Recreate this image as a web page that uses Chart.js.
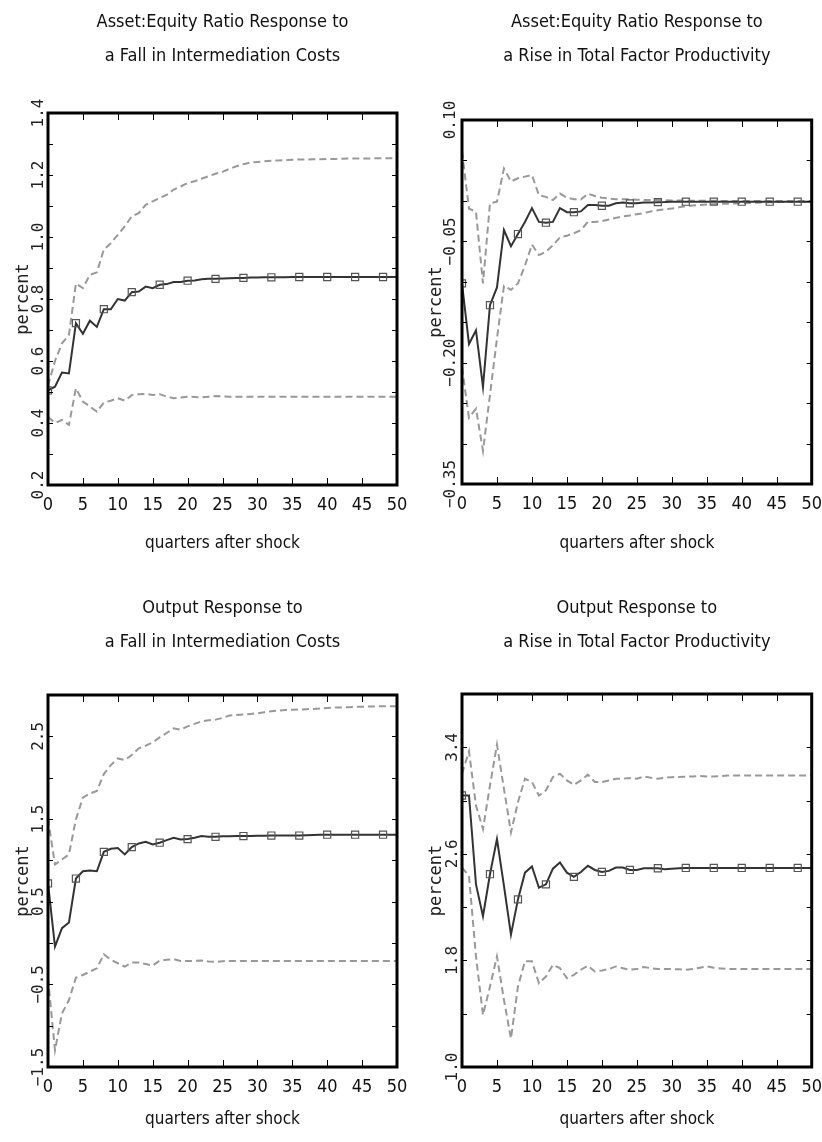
<!DOCTYPE html>
<html>
<head>
<meta charset="utf-8">
<script src="https://cdn.jsdelivr.net/npm/chart.js@4.4.1/dist/chart.umd.min.js"></script>
<style>
  html, body { margin: 0; padding: 0; background: #fff; }
  #wrap { position: relative; width: 822px; height: 1142px; }
  canvas { position: absolute; }
</style>
</head>
<body>
<div id="wrap">
  <canvas id="c1" width="411" height="571" style="left:0;top:0"></canvas>
  <canvas id="c2" width="411" height="571" style="left:411px;top:0"></canvas>
  <canvas id="c3" width="411" height="571" style="left:0;top:571px"></canvas>
  <canvas id="c4" width="411" height="571" style="left:411px;top:571px"></canvas>
</div>
<script>
// ── Daten ──────────────────────────────────────────────────────────
const QUARTERS = [0,1,2,3,4,5,6,7,8,9,10,11,12,13,14,15,16,17,18,19,20,21,22,23,24,25,
  26,27,28,29,30,31,32,33,34,35,36,37,38,39,40,41,42,43,44,45,46,47,48,49,50];
const X_TICKS = [0,5,10,15,20,25,30,35,40,45,50];

// Asset:Equity – Fall in Intermediation Costs
const AE_FALL_MID = [0.505,0.517,0.563,0.560,0.722,0.688,0.730,0.710,0.767,0.767,0.800,0.795,0.822,0.824,0.840,0.835,
  0.846,0.848,0.855,0.855,0.859,0.860,0.864,0.865,0.865,0.866,0.867,0.868,0.868,0.869,0.869,0.870,0.870,0.870,0.870,
  0.871,0.871,0.871,0.871,0.871,0.871,0.871,0.871,0.871,0.871,0.871,0.871,0.871,0.871,0.871,0.871];
const AE_FALL_HI = [0.52,0.60,0.657,0.684,0.85,0.835,0.878,0.886,0.96,0.98,1.007,1.034,1.067,1.077,1.104,1.115,
  1.126,1.136,1.153,1.163,1.174,1.180,1.188,1.196,1.204,1.210,1.220,1.228,1.235,1.240,1.242,1.244,1.246,1.247,1.248,
  1.249,1.250,1.250,1.251,1.251,1.252,1.252,1.252,1.253,1.253,1.253,1.253,1.254,1.254,1.254,1.254];
const AE_FALL_LO = [0.42,0.40,0.41,0.394,0.512,0.469,0.453,0.437,0.466,0.472,0.480,0.472,0.490,0.493,0.494,0.490,
  0.493,0.485,0.480,0.482,0.485,0.484,0.483,0.485,0.487,0.486,0.485,0.485,0.485,0.485,0.485,0.485,0.485,0.485,0.485,
  0.485,0.485,0.485,0.485,0.485,0.485,0.485,0.485,0.485,0.485,0.485,0.485,0.485,0.485,0.485,0.485];
const AE_FALL_YTICKS = [0.2,0.3,0.4,0.5,0.6,0.7,0.8,0.9,1.0,1.1,1.2,1.3,1.4];
const AE_FALL_YLABELS = [0.2,0.4,0.6,0.8,1.0,1.2,1.4];

// Asset:Equity – Rise in TFP
const AE_TFP_MID = [-0.102,-0.177,-0.160,-0.230,-0.129,-0.107,-0.036,-0.056,-0.041,-0.026,-0.009,-0.026,-0.027,-0.026,
  -0.009,-0.014,-0.014,-0.013,-0.005,-0.005,-0.006,-0.006,-0.003,-0.002,-0.003,-0.003,-0.002,-0.002,-0.0016,-0.0015,
  -0.001,-0.001,-0.001,-0.001,-0.001,-0.001,-0.001,-0.001,-0.001,-0.001,-0.001,-0.001,-0.001,-0.001,-0.001,-0.001,
  -0.001,-0.001,-0.001,-0.001,-0.001];
const AE_TFP_HI = [0.061,-0.0095,-0.0136,-0.102,-0.003,-0.001,0.040,0.024,0.028,0.030,0.032,0.007,0.005,0.001,0.009,
  0.004,0.002,0.0017,0.009,0.006,0.004,0.003,0.002,0.002,0.002,0.0015,0.001,0.001,0.001,0.0008,0.0005,0.0004,0.0003,
  0.0002,0.0002,0.0001,0.0001,0.0,0.0,0.0,0.0,0.0,0.0,0.0,0.0,0.0,0.0,0.0,0.0,0.0,0.0];
const AE_TFP_LO = [-0.206,-0.268,-0.257,-0.309,-0.240,-0.170,-0.105,-0.110,-0.102,-0.080,-0.054,-0.067,-0.063,-0.055,
  -0.045,-0.043,-0.040,-0.036,-0.026,-0.026,-0.025,-0.023,-0.021,-0.019,-0.018,-0.0165,-0.015,-0.013,-0.0115,-0.0105,
  -0.0095,-0.008,-0.0066,-0.0058,-0.005,-0.0045,-0.004,-0.0037,-0.0034,-0.0032,-0.003,-0.0027,-0.0024,-0.002,-0.0017,
  -0.0015,-0.0013,-0.0012,-0.001,-0.001,-0.001];
const AE_TFP_YTICKS = [-0.35,-0.30,-0.25,-0.20,-0.15,-0.10,-0.05,0.0,0.05,0.10];
const AE_TFP_YLABELS = [-0.35,-0.20,-0.05,0.10];

// Output – Fall in Intermediation Costs
const OUT_FALL_MID = [0.72,-0.043,0.18,0.249,0.78,0.868,0.876,0.868,1.103,1.14,1.148,1.071,1.16,1.204,1.225,1.192,
  1.213,1.245,1.273,1.253,1.257,1.273,1.294,1.285,1.285,1.29,1.292,1.293,1.294,1.295,1.296,1.297,1.300,1.300,1.300,
  1.300,1.300,1.302,1.305,1.308,1.31,1.31,1.31,1.31,1.31,1.31,1.31,1.31,1.31,1.31,1.31];
const OUT_FALL_HI = [1.504,0.949,1.01,1.071,1.496,1.759,1.808,1.84,2.043,2.152,2.233,2.213,2.273,2.354,2.387,2.427,
  2.488,2.54,2.597,2.581,2.621,2.65,2.682,2.694,2.702,2.723,2.751,2.759,2.763,2.771,2.779,2.792,2.804,2.812,2.82,
  2.822,2.824,2.828,2.832,2.838,2.844,2.848,2.850,2.853,2.856,2.858,2.860,2.862,2.864,2.864,2.864];
const OUT_FALL_LO = [-0.427,-1.298,-0.852,-0.69,-0.419,-0.387,-0.346,-0.306,-0.136,-0.204,-0.245,-0.285,-0.237,-0.237,
  -0.253,-0.273,-0.212,-0.204,-0.196,-0.217,-0.217,-0.217,-0.212,-0.225,-0.229,-0.22,-0.217,-0.217,-0.217,-0.217,
  -0.217,-0.217,-0.217,-0.217,-0.217,-0.217,-0.217,-0.217,-0.217,-0.217,-0.217,-0.217,-0.217,-0.217,-0.217,-0.217,
  -0.217,-0.217,-0.217,-0.217,-0.217];
const OUT_FALL_YTICKS = [-1.5,-1.0,-0.5,0.0,0.5,1.0,1.5,2.0,2.5,3.0];
const OUT_FALL_YLABELS = [-1.5,-0.5,0.5,1.5,2.5];

// Output – Rise in TFP
const OUT_TFP_MID = [3.038,3.038,2.371,2.132,2.447,2.711,2.359,1.994,2.258,2.459,2.505,2.346,2.371,2.489,2.535,2.459,
  2.427,2.464,2.510,2.479,2.464,2.472,2.497,2.497,2.479,2.479,2.492,2.492,2.492,2.484,2.489,2.492,2.494,2.494,2.494,
  2.494,2.494,2.494,2.494,2.494,2.494,2.494,2.494,2.494,2.494,2.494,2.494,2.494,2.494,2.494,2.494];
const OUT_TFP_HI = [3.201,3.370,2.962,2.786,3.113,3.420,3.088,2.761,2.988,3.164,3.139,3.038,3.076,3.177,3.201,3.151,
  3.118,3.151,3.194,3.139,3.139,3.151,3.164,3.164,3.169,3.164,3.181,3.171,3.164,3.171,3.176,3.177,3.179,3.181,3.184,
  3.181,3.181,3.184,3.189,3.189,3.189,3.189,3.189,3.189,3.189,3.189,3.189,3.189,3.189,3.189,3.189];
const OUT_TFP_LO = [2.497,2.434,1.83,1.39,1.604,1.83,1.503,1.214,1.604,1.793,1.793,1.629,1.679,1.767,1.742,1.667,
  1.692,1.73,1.76,1.717,1.725,1.735,1.755,1.742,1.73,1.735,1.75,1.742,1.735,1.735,1.735,1.733,1.730,1.735,1.745,
  1.755,1.745,1.740,1.735,1.735,1.735,1.735,1.735,1.735,1.735,1.735,1.735,1.735,1.735,1.735,1.735];
const OUT_TFP_YTICKS = [1.0,1.4,1.8,2.2,2.6,3.0,3.4,3.8];
const OUT_TFP_YLABELS = [1.0,1.8,2.6,3.4];

// ── Darstellung ────────────────────────────────────────────────────
// schmale Schrift: "condensed" im font-Shorthand (Gewicht-Feld wird nicht geprueft)
const NARROW = "'DejaVu Sans', sans-serif";
const NARROW_W = 'normal condensed';
const MONO = "'DejaVu Sans Mono', monospace";

// Rahmen + nach innen zeigende Tickstriche auf allen vier Seiten
const framePlugin = {
  id: 'frame',
  afterDatasetsDraw(chart) {
    const { ctx, chartArea: a, scales: { x, y } } = chart;
    ctx.save();
    ctx.strokeStyle = '#000';
    ctx.lineWidth = 1;
    ctx.beginPath();
    x.ticks.forEach(t => {
      if (t.value <= x.min || t.value >= x.max) return;
      const px = Math.round(x.getPixelForValue(t.value)) + 0.5;
      ctx.moveTo(px, a.bottom); ctx.lineTo(px, a.bottom - 7);
      ctx.moveTo(px, a.top); ctx.lineTo(px, a.top + 7);
    });
    y.ticks.forEach(t => {
      if (t.value <= y.min || t.value >= y.max) return;
      const py = Math.round(y.getPixelForValue(t.value)) + 0.5;
      ctx.moveTo(a.left, py); ctx.lineTo(a.left + 5, py);
      ctx.moveTo(a.right, py); ctx.lineTo(a.right - 5, py);
    });
    ctx.stroke();
    ctx.lineWidth = 3;
    ctx.strokeRect(a.left, a.top, a.right - a.left, a.bottom - a.top);
    ctx.restore();
  }
};

function fmt(v, dec) {
  return v.toFixed(dec).replace('-', '\u2212');
}

function makePanel(id, p) {
  const yLabels = p.yLabels;
  return new Chart(document.getElementById(id), {
    type: 'line',
    data: {
      labels: QUARTERS,
      datasets: [
        {
          data: p.mid, borderColor: '#333', borderWidth: 2, tension: 0,
          pointStyle: 'rect',
          pointRadius: (c) => (c.dataIndex % 4 === 0 ? 5 : 0),
          pointBorderColor: '#555', pointBorderWidth: 1.2,
          pointBackgroundColor: 'rgba(0,0,0,0)'
        },
        { data: p.hi, borderColor: '#999', borderWidth: 2, borderDash: [7, 4], pointRadius: 0, tension: 0 },
        { data: p.lo, borderColor: '#999', borderWidth: 2, borderDash: [7, 4], pointRadius: 0, tension: 0 }
      ]
    },
    options: {
      responsive: false,
      animation: false,
      devicePixelRatio: 1,
      events: [],
      layout: { padding: { left: 0, right: p.padRight, top: 0, bottom: 0 } },
      plugins: {
        legend: { display: false },
        tooltip: { enabled: false },
        title: {
          display: true,
          text: p.title,
          fullSize: false,
          color: '#111',
          font: { family: NARROW, size: 18, weight: NARROW_W, lineHeight: '34px' },
          padding: { top: p.titleTop, bottom: p.titleBottom }
        }
      },
      scales: {
        x: {
          type: 'linear', min: 0, max: 50,
          afterBuildTicks: (s) => { s.ticks = X_TICKS.map(v => ({ value: v })); },
          afterFit: (s) => { s.height = p.xHeight; },
          grid: { display: false, drawTicks: true, tickLength: 10 },
          border: { display: false },
          ticks: {
            autoSkip: false, padding: 0, color: '#111', maxRotation: 0,
            font: { family: NARROW, size: 18, weight: NARROW_W },
            callback: (v) => String(v)
          },
          title: {
            display: true, text: 'quarters after shock', color: '#111',
            font: { family: NARROW, size: 17, weight: NARROW_W },
            padding: { top: 0, bottom: p.xTitleBottom }
          }
        },
        y: {
          type: 'linear', min: p.yMin, max: p.yMax,
          afterBuildTicks: (s) => { s.ticks = p.yTicks.map(v => ({ value: v })); },
          afterFit: (s) => { s.width = p.yWidth; },
          grid: { display: false, drawTicks: false },
          border: { display: false },
          ticks: {
            autoSkip: false, color: '#222',
            minRotation: 90, maxRotation: 90, crossAlign: 'center',
            padding: p.yPad,
            font: { family: MONO, size: 16 },
            callback: (v) => (yLabels.includes(v) ? fmt(v, p.dec) : '')
          },
          title: {
            display: true, text: 'percent', color: '#222',
            font: { family: MONO, size: 17 },
            padding: { top: p.yTitleTop, bottom: 0 }
          }
        }
      }
    },
    plugins: [framePlugin]
  });
}

makePanel('c1', {
  title: ['Asset:Equity Ratio Response to', 'a Fall in Intermediation Costs'],
  mid: AE_FALL_MID, hi: AE_FALL_HI, lo: AE_FALL_LO,
  yMin: 0.2, yMax: 1.4, yTicks: AE_FALL_YTICKS, yLabels: AE_FALL_YLABELS, dec: 1,
  titleTop: 5, titleBottom: 40, padRight: 14, yWidth: 48, xHeight: 86,
  yPad: -5.5, yTitleTop: 13, xTitleBottom: 17
});
makePanel('c2', {
  title: ['Asset:Equity Ratio Response to', 'a Rise in Total Factor Productivity'],
  mid: AE_TFP_MID, hi: AE_TFP_HI, lo: AE_TFP_LO,
  yMin: -0.35, yMax: 0.10, yTicks: AE_TFP_YTICKS, yLabels: AE_TFP_YLABELS, dec: 2,
  titleTop: 5, titleBottom: 47, padRight: 10, yWidth: 51, xHeight: 87,
  yPad: -13, yTitleTop: 15, xTitleBottom: 17
});
makePanel('c3', {
  title: ['Output Response to', 'a Fall in Intermediation Costs'],
  mid: OUT_FALL_MID, hi: OUT_FALL_HI, lo: OUT_FALL_LO,
  yMin: -1.5, yMax: 3.0, yTicks: OUT_FALL_YTICKS, yLabels: OUT_FALL_YLABELS, dec: 1,
  titleTop: 20, titleBottom: 36, padRight: 14, yWidth: 48, xHeight: 75,
  yPad: -10, yTitleTop: 13, xTitleBottom: 12
});
makePanel('c4', {
  title: ['Output Response to', 'a Rise in Total Factor Productivity'],
  mid: OUT_TFP_MID, hi: OUT_TFP_HI, lo: OUT_TFP_LO,
  yMin: 1.0, yMax: 3.8, yTicks: OUT_TFP_YTICKS, yLabels: OUT_TFP_YLABELS, dec: 1,
  titleTop: 20, titleBottom: 35, padRight: 10, yWidth: 51, xHeight: 75,
  yPad: -5.5, yTitleTop: 15, xTitleBottom: 12
});
</script>
</body>
</html>
